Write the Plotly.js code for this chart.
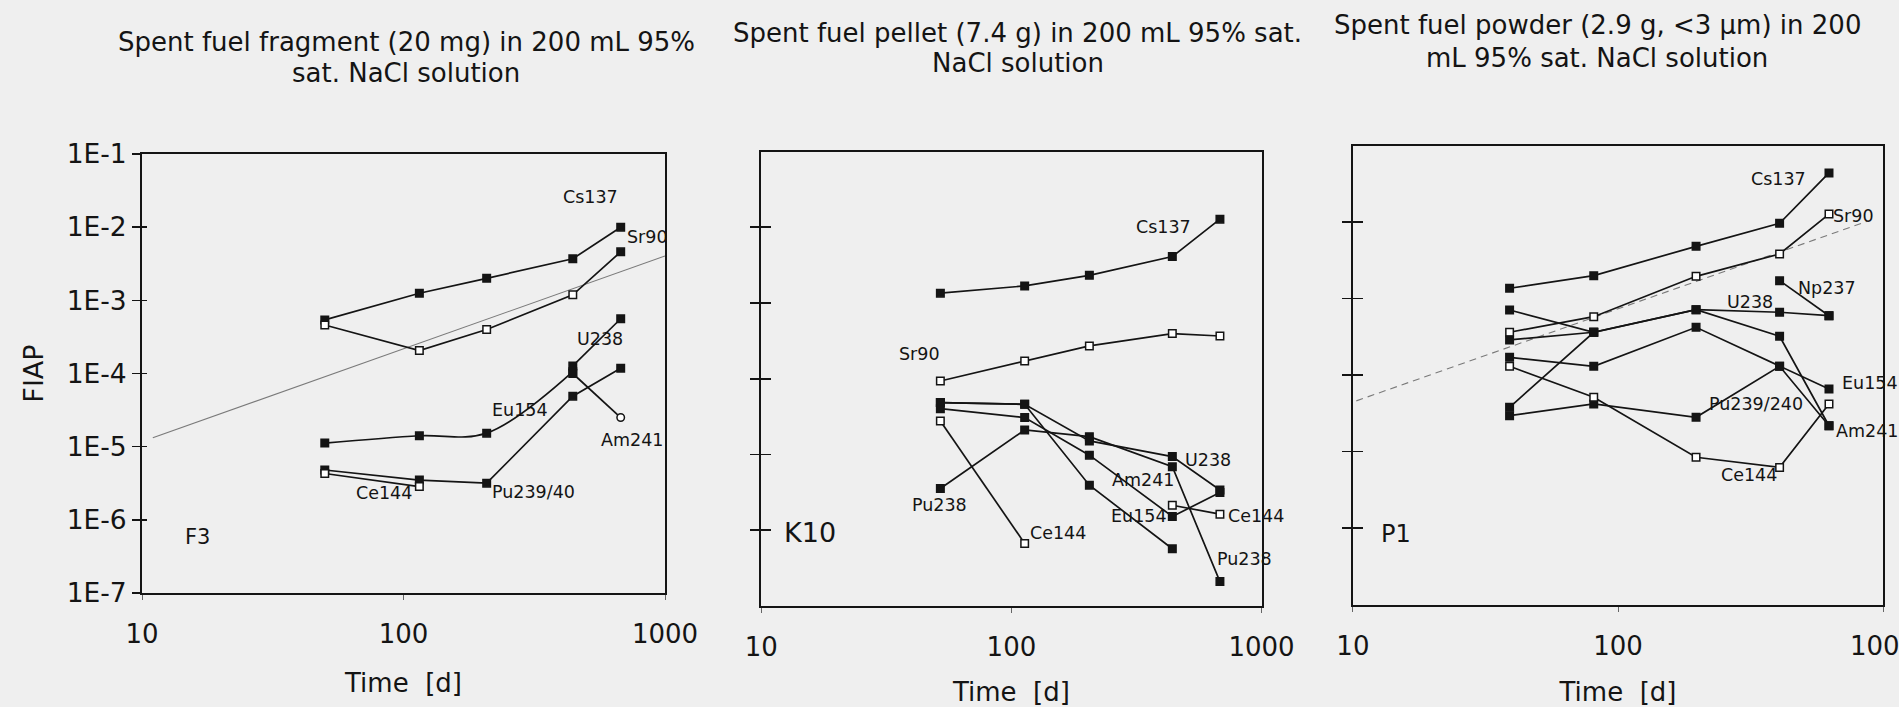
<!DOCTYPE html>
<html>
<head>
<meta charset="utf-8">
<script src="https://cdn.plot.ly/plotly-3.0.1.min.js"></script>
<style>
  html, body { margin: 0; padding: 0; background: #efefef; }
  #chart { width: 1899px; height: 707px; }
</style>
</head>
<body>
<div id="chart"></div>
<script>
// ---- Sampling times [d] ----
const timeFragment = [50, 115, 208, 444, 677];
const timePellet   = [52, 113, 205, 440, 682];
const timePowder   = [39, 81, 197, 407, 625];

// ---- F3: spent fuel fragment (20 mg) ----
const fragCs137 = [5.4e-4, 1.25e-3, 2.0e-3, 3.7e-3, 1.0e-2];
const fragSr90  = [4.6e-4, 2.06e-4, 4.0e-4, 1.19e-3, 4.6e-3];
const fragU238  = [null, null, null, 1.27e-4, 5.6e-4];
const fragAm241 = [null, null, null, 1.0e-4, 2.5e-5];
const fragEu154 = [1.12e-5, 1.41e-5, 1.53e-5, 1.06e-4, null];
const fragPu239 = [4.8e-6, 3.5e-6, 3.17e-6, 4.9e-5, 1.18e-4];
const fragCe144 = [4.3e-6, 2.85e-6, null, null, null];
const fragTrendTime = [11, 1000];
const fragTrend     = [1.32e-5, 4.04e-3];

// ---- K10: spent fuel pellet (7.4 g) ----
const pelCs137 = [1.35e-3, 1.68e-3, 2.32e-3, 4.1e-3, 1.28e-2];
const pelSr90  = [9.35e-5, 1.72e-4, 2.71e-4, 3.95e-4, 3.67e-4];
const pelU238  = [4.84e-5, 4.6e-5, 1.51e-5, 9.4e-6, 3.4e-6];
const pelEu154 = [4.84e-5, 4.6e-5, 3.93e-6, 5.7e-7, null];
const pelAm241 = [4.03e-5, 3.07e-5, 9.8e-6, 1.52e-6, 3.14e-6];
const pelPu238 = [3.55e-6, 2.11e-5, 1.72e-5, 6.9e-6, 2.1e-7];
const pelCe144 = [2.77e-5, 6.7e-7, null, 2.14e-6, 1.63e-6];

// ---- P1: spent fuel powder (2.9 g, <3 µm) ----
const powCs137 = [1.36e-3, 1.99e-3, 4.81e-3, 9.62e-3, 4.38e-2];
const powSr90  = [3.62e-4, 5.78e-4, 1.95e-3, 3.82e-3, 1.27e-2];
const powNp237 = [2.87e-4, 3.62e-4, null, 1.71e-3, 5.96e-4];
const powU238  = [7.08e-4, 3.62e-4, 7.15e-4, 6.61e-4, 5.96e-4];
const powEu154 = [1.70e-4, 1.30e-4, 4.2e-4, 1.30e-4, 6.56e-5];
const powPu239 = [2.94e-5, 4.18e-5, 2.80e-5, 1.30e-4, 2.17e-5];
const powAm241 = [3.78e-5, 3.62e-4, 7.15e-4, 3.21e-4, 2.17e-5];
const powCe144 = [1.30e-4, 5.11e-5, 8.4e-6, 6.2e-6, 4.18e-5];
const powTrendTime = [10.3, 870];
const powTrend     = [4.59e-5, 1.02e-2];

// ---- Axis ticks ----
const timeTicks = [10, 100, 1000];
const timeTickText = ['10', '100', '1000'];
const fiapTicks = [1e-1, 1e-2, 1e-3, 1e-4, 1e-5, 1e-6, 1e-7];
const fiapTickText = ['1E-1', '1E-2', '1E-3', '1E-4', '1E-5', '1E-6', '1E-7'];
const innerFiapTicks = [1e-2, 1e-3, 1e-4, 1e-5, 1e-6];

// ---- Styling ----
const W = 1899, H = 707;
const INK = '#141414';
const FONT = 'DejaVu Sans';
const FILL = INK, HOLLOW = '#ffffff';

// plot boxes in page pixels
const PANELS = [
  { x: 'x',  y: 'y',  left: 142,    right: 665,    top: 154,   bottom: 593 },
  { x: 'x2', y: 'y2', left: 761.3,  right: 1261.5, top: 151.5, bottom: 606 },
  { x: 'x3', y: 'y3', left: 1352.9, right: 1883.1, top: 145.5, bottom: 604.5 }
];

function series(name, t, v, fill, panel, opts) {
  opts = opts || {};
  const fills = Array.isArray(fill) ? fill : t.map(() => fill);
  return {
    type: 'scatter', mode: 'lines+markers', name: name,
    x: t, y: v, xaxis: panel.x, yaxis: panel.y,
    connectgaps: false, cliponaxis: false,
    line: { color: INK, width: 1.7, shape: opts.shape || 'linear', smoothing: 1 },
    marker: {
      symbol: opts.symbols || 'square', size: 7.5, color: fills,
      line: { color: INK, width: 1.5 }
    },
    hovertemplate: name + ': %{y:.2e} at %{x} d<extra></extra>'
  };
}

function trend(t, v, panel, dash) {
  return {
    type: 'scatter', mode: 'lines', x: t, y: v,
    xaxis: panel.x, yaxis: panel.y,
    line: { color: '#7a7a7a', width: 1.1, dash: dash },
    hoverinfo: 'skip'
  };
}

const P1 = PANELS[0], P2 = PANELS[1], P3 = PANELS[2];

const traces = [
  trend(fragTrendTime, fragTrend, P1, 'solid'),
  series('Cs137', timeFragment, fragCs137, FILL, P1),
  series('Sr90', timeFragment, fragSr90, [HOLLOW, HOLLOW, HOLLOW, HOLLOW, FILL], P1),
  series('U238', timeFragment, fragU238, FILL, P1),
  series('Am241', timeFragment, fragAm241, [FILL, FILL, FILL, FILL, HOLLOW], P1,
         { symbols: ['square', 'square', 'square', 'square', 'circle'] }),
  series('Eu154', timeFragment, fragEu154, FILL, P1, { shape: 'spline' }),
  series('Pu239/40', timeFragment, fragPu239, FILL, P1),
  series('Ce144', timeFragment, fragCe144, HOLLOW, P1),

  series('Cs137', timePellet, pelCs137, FILL, P2),
  series('Sr90', timePellet, pelSr90, HOLLOW, P2),
  series('U238', timePellet, pelU238, FILL, P2),
  series('Eu154', timePellet, pelEu154, FILL, P2),
  series('Am241', timePellet, pelAm241, FILL, P2),
  series('Pu238', timePellet, pelPu238, FILL, P2),
  series('Ce144', timePellet, pelCe144, HOLLOW, P2),

  trend(powTrendTime, powTrend, P3, '7px,5px'),
  series('Cs137', timePowder, powCs137, FILL, P3),
  series('Sr90', timePowder, powSr90, HOLLOW, P3),
  series('Np237', timePowder, powNp237, FILL, P3),
  series('U238', timePowder, powU238, FILL, P3),
  series('Eu154', timePowder, powEu154, FILL, P3),
  series('Pu239/240', timePowder, powPu239, FILL, P3),
  series('Am241', timePowder, powAm241, FILL, P3),
  series('Ce144', timePowder, powCe144, HOLLOW, P3)
];

// empty traces so the tick overlay axes get drawn
['y4', 'y5', 'y6'].forEach((ya, i) => {
  traces.push({ type: 'scatter', x: [], y: [], xaxis: PANELS[i].x, yaxis: ya,
                hoverinfo: 'skip', showlegend: false });
});

const layout = {
  width: W, height: H,
  margin: { l: 0, r: 0, t: 0, b: 0 },
  paper_bgcolor: '#efefef',
  plot_bgcolor: '#efefef',
  showlegend: false,
  font: { family: FONT, color: INK },
  annotations: []
};

PANELS.forEach((p, i) => {
  const n = i === 0 ? '' : String(i + 1);
  const xd = [p.left / W, p.right / W];
  const yd = [1 - p.bottom / H, 1 - p.top / H];
  layout['xaxis' + n] = {
    domain: xd, anchor: p.y, type: 'log', range: [1, 3],
    tickvals: timeTicks, ticktext: timeTickText,
    ticks: 'outside', ticklen: 5, tickwidth: 1, tickcolor: '#666',
    ticklabelstandoff: 12, ticklabeloverflow: 'allow',
    tickfont: { family: FONT, size: 26, color: INK },
    showline: true, mirror: true, linewidth: 2, linecolor: INK,
    showgrid: false, zeroline: false, fixedrange: true,
    title: { text: 'Time\u00a0\u00a0[d]', font: { family: FONT, size: 26, color: INK }, standoff: 26 }
  };
  const yax = {
    domain: yd, anchor: p.x, type: 'log', range: [-7, -1],
    tickvals: i === 0 ? fiapTicks : innerFiapTicks,
    ticktext: i === 0 ? fiapTickText : undefined,
    showticklabels: i === 0,
    ticks: 'outside', ticklen: i === 0 ? 8 : 9, tickwidth: 1.6, tickcolor: INK,
    ticklabelstandoff: 0,
    tickfont: { family: FONT, size: 26.5, color: INK },
    showline: true, mirror: true, linewidth: 2, linecolor: INK,
    showgrid: false, zeroline: false, fixedrange: true
  };
  if (i === 0) {
    yax.title = { text: 'FIAP', font: { family: FONT, size: 27, color: INK }, standoff: 15 };
  }
  layout['yaxis' + n] = yax;
  // inward half of the crossing tick marks
  layout['yaxis' + (i + 4)] = {
    overlaying: p.y, anchor: p.x, side: 'left', type: 'log', range: [-7, -1],
    tickvals: i === 0 ? fiapTicks : innerFiapTicks,
    ticks: 'inside', ticklen: i === 0 ? 5 : 10, tickwidth: 1.6, tickcolor: INK,
    showticklabels: false, showline: false, showgrid: false, zeroline: false,
    fixedrange: true
  };
});

// panel headings, one annotation per line
const headings = [
  { lines: ['Spent fuel fragment (20 mg) in 200 mL 95%', 'sat. NaCl solution'], cx: 406, ys: [42, 73] },
  { lines: ['Spent fuel pellet (7.4 g) in 200 mL 95% sat.', 'NaCl solution'], cx: 1018, ys: [33, 63] },
  { lines: ['Spent fuel powder (2.9 g, <3 µm) in 200', 'mL 95% sat. NaCl solution'], cx: 1597, ys: [25, 58] }
];
headings.forEach(h => {
  h.lines.forEach((txt, k) => {
    layout.annotations.push({
      xref: 'paper', yref: 'paper', x: h.cx / W, y: 1 - h.ys[k] / H,
      xanchor: 'center', yanchor: 'middle', showarrow: false,
      text: txt, font: { family: FONT, size: 26, color: INK }
    });
  });
});

// nuclide labels placed in (time, FIAP) coordinates
const curveLabels = [
  [P1, 'Cs137', 520, 2.56e-2, 'center'],
  [P1, 'Sr90', 703, 7.35e-3, 'left'],
  [P1, 'U238', 566, 2.94e-4, 'center'],
  [P1, 'Eu154', 279, 3.17e-5, 'center'],
  [P1, 'Am241', 746, 1.23e-5, 'center'],
  [P1, 'Ce144', 84, 2.31e-6, 'center'],
  [P1, 'Pu239/40', 314, 2.43e-6, 'center'],

  [P2, 'Cs137', 405, 1.02e-2, 'center'],
  [P2, 'Sr90', 42.8, 2.15e-4, 'center'],
  [P2, 'U238', 611, 8.4e-6, 'center'],
  [P2, 'Am241', 336, 4.6e-6, 'center'],
  [P2, 'Pu238', 51.4, 2.14e-6, 'center'],
  [P2, 'Ce144', 153.5, 9.3e-7, 'center'],
  [P2, 'Eu154', 324, 1.52e-6, 'center'],
  [P2, 'Ce144', 951, 1.55e-6, 'center'],
  [P2, 'Pu238', 859, 4.14e-7, 'center'],

  [P3, 'Cs137', 404, 3.65e-2, 'center'],
  [P3, 'Sr90', 638, 1.21e-2, 'left'],
  [P3, 'Np237', 471, 1.37e-3, 'left'],
  [P3, 'U238', 316, 9.08e-4, 'center'],
  [P3, 'Eu154', 688, 7.85e-5, 'left'],
  [P3, 'Pu239/240', 331, 4.18e-5, 'center'],
  [P3, 'Am241', 650, 1.87e-5, 'left'],
  [P3, 'Ce144', 313, 4.93e-6, 'center']
];
curveLabels.forEach(([p, txt, t, v, anchor]) => {
  layout.annotations.push({
    xref: p.x, yref: p.y, x: Math.log10(t), y: Math.log10(v),
    xanchor: anchor, yanchor: 'middle', showarrow: false,
    text: txt, font: { family: FONT, size: 17.5, color: INK }
  });
});

// sample identifiers
const sampleTags = [
  [P1, 'F3', 16.3, 5.77e-7, 21],
  [P2, 'K10', 15.7, 9.4e-7, 27],
  [P3, 'P1', 14.5, 8.36e-7, 24]
];
sampleTags.forEach(([p, txt, t, v, size]) => {
  layout.annotations.push({
    xref: p.x, yref: p.y, x: Math.log10(t), y: Math.log10(v),
    xanchor: 'center', yanchor: 'middle', showarrow: false,
    text: txt, font: { family: FONT, size: size, color: INK }
  });
});

Plotly.newPlot('chart', traces, layout, { staticPlot: true, displayModeBar: false });
</script>
</body>
</html>
